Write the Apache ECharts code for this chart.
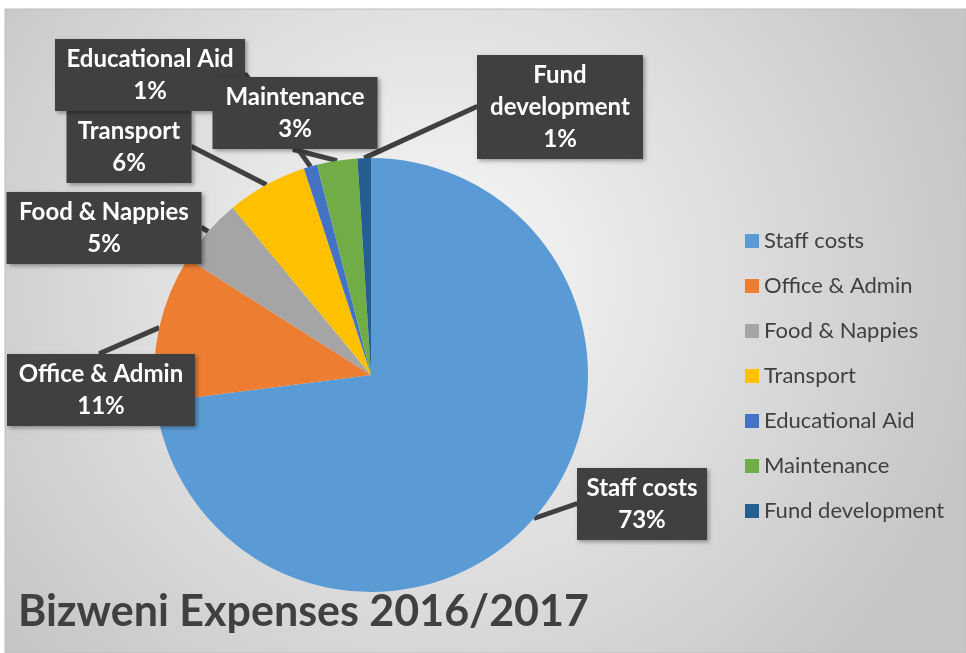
<!DOCTYPE html>
<html>
<head>
<meta charset="utf-8">
<script src="https://cdn.jsdelivr.net/npm/echarts@6/dist/echarts.min.js"></script>
<style>
html,body{margin:0;padding:0;background:#fff;}
#chart{width:966px;height:653px;}
</style>
</head>
<body>
<div id="chart"></div>
<script>
const categories = ['Staff costs', 'Office & Admin', 'Food & Nappies', 'Transport', 'Educational Aid', 'Maintenance', 'Fund development'];
const shares = [73, 11, 5, 6, 1, 3, 1];
const titleText = 'Bizweni Expenses 2016/2017';

const colors = ['#5B9BD5', '#ED7D31', '#A5A5A5', '#FFC000', '#4472C4', '#70AD47', '#255E91'];
// label box layout: center x, center y, content width
const labelBoxes = [
  [642, 504, 130],
  [101, 390, 188],
  [104, 228, 195],
  [129, 147, 125],
  [150, 75, 190],
  [295, 113, 165],
  [560, 107, 166]
];

const chart = echarts.init(document.getElementById('chart'));
const fontFam = 'Lato';

chart.setOption({
  backgroundColor: '#ffffff',
  animation: false,
  color: colors,
  graphic: [{
    type: 'rect',
    z: -10,
    shape: {x: 5, y: 9, width: 961, height: 644},
    style: {
      fill: new echarts.graphic.RadialGradient(0.45, 0.42, 0.85, [
        {offset: 0, color: '#f9f9f9'},
        {offset: 1, color: '#c6c6c6'}
      ]),
      stroke: '#bdbdbd',
      lineWidth: 1
    }
  }],
  title: {
    text: titleText,
    left: 13,
    top: 586,
    textStyle: {fontFamily: fontFam, fontWeight: 'bold', fontSize: 43, color: '#404040'}
  },
  legend: {
    orient: 'vertical',
    left: 745,
    top: 230,
    padding: 0,
    icon: 'rect',
    itemWidth: 14,
    itemHeight: 14,
    itemGap: 23,
    data: categories,
    textStyle: {fontFamily: fontFam, fontSize: 22, lineHeight: 22, color: '#404040'}
  },
  series: [{
    type: 'pie',
    center: [371, 375],
    radius: 217,
    startAngle: 90,
    clockwise: true,
    avoidLabelOverlap: false,
    percentPrecision: 0,
    data: categories.map((c, i) => ({
      name: c,
      value: shares[i],
      label: {width: labelBoxes[i][2]}
    })),
    label: {
      show: true,
      position: 'outside',
      formatter: p => (p.name === 'Fund development' ? 'Fund\ndevelopment' : p.name) + '\n' + p.percent + '%',
      fontFamily: fontFam,
      fontWeight: 'bold',
      fontSize: 24,
      lineHeight: 32,
      color: '#ffffff',
      align: 'center',
      backgroundColor: '#404040',
      padding: [4, 0],
      shadowBlur: 4,
      shadowColor: 'rgba(0,0,0,0.35)',
      shadowOffsetX: 2,
      shadowOffsetY: 2
    },
    labelLine: {
      show: true,
      length: 1,
      length2: 1,
      lineStyle: {color: '#404040', width: 5}
    },
    labelLayout: function (params) {
      const b = labelBoxes[params.dataIndex];
      return {x: b[0], y: b[1], align: 'center', verticalAlign: 'middle'};
    },
    emphasis: {disabled: true}
  }]
});
</script>
</body>
</html>
